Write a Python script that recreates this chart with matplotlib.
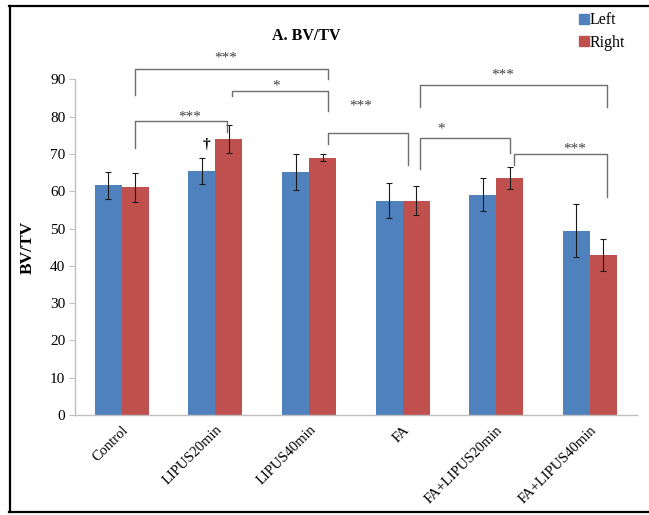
import matplotlib.pyplot as plt
import numpy as np
from matplotlib.lines import Line2D

plt.rcParams['font.family'] = ['Liberation Serif', 'DejaVu Serif']

# Data
groups = ["Control", "LIPUS20min", "LIPUS40min", "FA", "FA+LIPUS20min", "FA+LIPUS40min"]
left_vals = [61.6, 65.4, 65.1, 57.5, 59.1, 49.4]
left_err = [3.6, 3.4, 4.8, 4.7, 4.4, 7.1]
right_vals = [61.0, 74.0, 69.0, 57.5, 63.5, 43.0]
right_err = [3.9, 3.8, 0.9, 4.0, 2.9, 4.3]

# significance brackets: left x, right x, left leg bottom, top, right leg bottom, label
br_x1 = [0.14, 1.18, 0.14, 2.20, 3.18, 3.18, 4.19]
br_x2 = [2.20, 2.20, 1.12, 3.06, 5.18, 4.15, 5.18]
br_y1 = [85.8, 85.6, 71.6, 72.7, 82.7, 65.9, 67.0]
br_top = [92.7, 86.9, 78.7, 75.5, 88.5, 74.2, 69.9]
br_y2 = [90.0, 81.4, 76.0, 67.0, 82.7, 70.2, 58.5]
br_lab = ["***", "*", "***", "***", "***", "*", "***"]
lab_x = [1.11, 1.65, 0.73, 2.55, 4.07, 3.41, 4.84]
lab_y = [95.8, 88.3, 80.0, 82.7, 91.1, 76.7, 71.2]

blue = "#4F81BD"
red = "#C0504D"

fig = plt.figure(figsize=(6.49, 5.15), dpi=100)
W, H = 649, 515
ax = fig.add_axes([75 / W, 1 - 415 / H, (636.7 - 75) / W, (415 - 79.3) / H])

x = np.arange(len(groups))
bw = 0.288
ax.bar(x - bw / 2, left_vals, bw, color=blue, label="Left", zorder=2)
ax.bar(x + bw / 2, right_vals, bw, color=red, label="Right", zorder=2)
ax.errorbar(x - bw / 2, left_vals, yerr=left_err, fmt="none", ecolor="#1a1a1a",
            elinewidth=0.8, capsize=2.5, capthick=0.8, zorder=3)
ax.errorbar(x + bw / 2, right_vals, yerr=right_err, fmt="none", ecolor="#1a1a1a",
            elinewidth=0.8, capsize=2.5, capthick=0.8, zorder=3)

ax.set_xlim(-0.5, len(groups) - 0.5)
ax.set_ylim(0, 90)
ax.set_yticks(range(0, 91, 10))
ax.set_xticks(x)
ax.set_xticklabels(groups, rotation=45, ha="right", rotation_mode="anchor", fontsize=10.5)
ax.tick_params(axis="x", length=0, pad=6)
ax.tick_params(axis="y", length=4, color="#bfbfbf", labelsize=11, pad=3)
for s in ["top", "right"]:
    ax.spines[s].set_visible(False)
for s in ["left", "bottom"]:
    ax.spines[s].set_color("#bfbfbf")
    ax.spines[s].set_linewidth(1.0)
ax.set_ylabel("BV/TV", fontsize=12.5, fontweight="bold", labelpad=10)

# brackets
for i in range(len(br_lab)):
    ax.plot([br_x1[i], br_x1[i], br_x2[i], br_x2[i]],
            [br_y1[i], br_top[i], br_top[i], br_y2[i]],
            color="#6f6f6f", lw=1.0, clip_on=False, zorder=4)
    ax.text(lab_x[i], lab_y[i], br_lab[i], ha="center", va="center",
            fontsize=11, color="#404040", clip_on=False)

ax.text(0.9, 72.6, "\u2020", ha="center", va="center", fontsize=11, fontweight="bold")

fig.text(306 / W, 1 - 36 / H, "A. BV/TV", ha="center", va="center",
         fontsize=11.5, fontweight="bold")

handles = [Line2D([], [], marker="s", ls="none", color=blue, markersize=7),
           Line2D([], [], marker="s", ls="none", color=red, markersize=7)]
fig.legend(handles, ["Left", "Right"], loc="upper left",
           bbox_to_anchor=(570 / W, 1 - 6 / H), frameon=False, fontsize=11.5,
           handletextpad=-0.15, labelspacing=0.4, handlelength=1.0, borderaxespad=0)

# outer frame (left, top, bottom)
fig.add_artist(Line2D([10 / W, 10 / W], [1 - 5.5 / H, 1 - 512 / H], color="black", lw=1.6))
fig.add_artist(Line2D([9.2 / W, 1], [1 - 5.5 / H, 1 - 5.5 / H], color="black", lw=1.6))
fig.add_artist(Line2D([9.2 / W, 1], [1 - 512 / H, 1 - 512 / H], color="black", lw=1.6))

fig.savefig("out.png", dpi=100)
